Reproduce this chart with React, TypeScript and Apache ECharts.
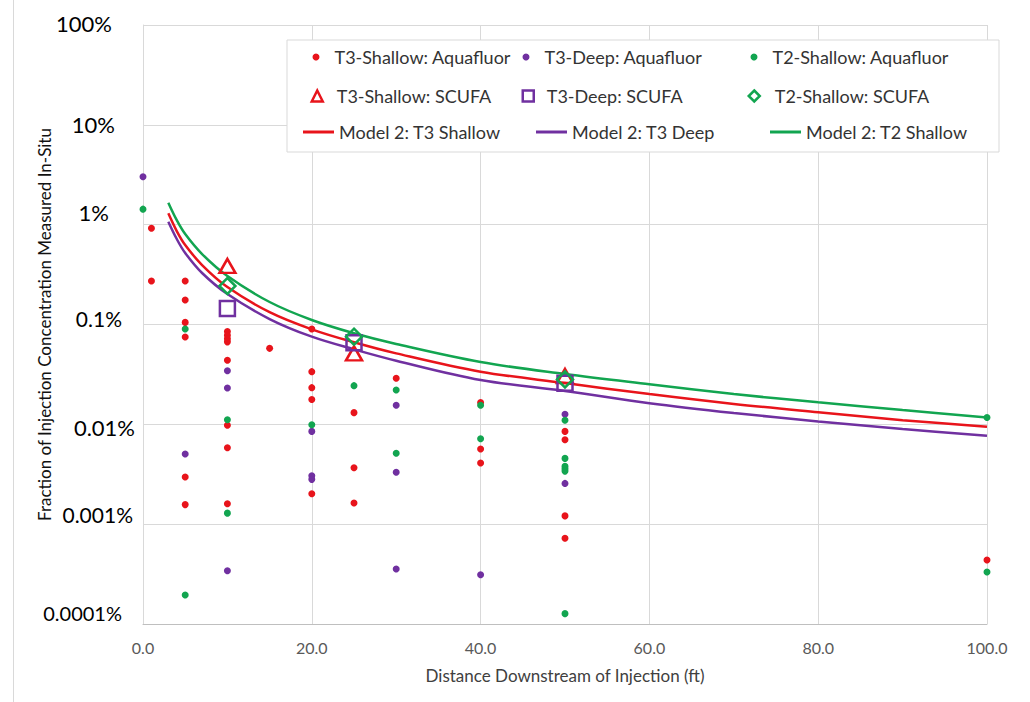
import React, { useEffect, useRef } from "react";
import * as echarts from "echarts";

// ---- data (values in percent) ----
const yTickLabels = ["0.0001%", "0.001%", "0.01%", "0.1%", "1%", "10%", "100%"];

const t3ShallowAqua: [number, number][] = [
  [1, 0.92], [1, 0.273], [5, 0.273], [5, 0.176], [5, 0.105], [5, 0.075], [5, 0.00297], [5, 0.00157],
  [10, 0.085], [10, 0.078], [10, 0.072], [10, 0.067], [10, 0.0438], [10, 0.00978], [10, 0.00583], [10, 0.0016],
  [15, 0.0577],
  [20, 0.0901], [20, 0.0337], [20, 0.0233], [20, 0.0177], [20, 0.00202],
  [25, 0.0131], [25, 0.00367], [25, 0.00163],
  [30, 0.0289],
  [40, 0.0165], [40, 0.00566], [40, 0.0041],
  [50, 0.0085], [50, 0.00702], [50, 0.00121], [50, 0.000722],
  [100, 0.000438],
];

const t3DeepAqua: [number, number][] = [
  [0, 3.02], [5, 0.00505], [10, 0.0344], [10, 0.0231], [10, 0.000342],
  [20, 0.0085], [20, 0.00306], [20, 0.00281],
  [30, 0.0155], [30, 0.00331], [30, 0.000356],
  [40, 0.000312], [50, 0.0126], [50, 0.00256],
];

const t2ShallowAqua: [number, number][] = [
  [0, 1.43], [5, 0.0901], [5, 0.000195], [10, 0.0111], [10, 0.00129],
  [20, 0.0099], [25, 0.0244], [30, 0.0221], [30, 0.00513],
  [40, 0.0155], [40, 0.00718],
  [50, 0.011], [50, 0.00456], [50, 0.0038], [50, 0.0036], [50, 0.0034], [50, 0.000127],
  [100, 0.0117], [100, 0.000332],
];

const t3ShallowScufa: [number, number][] = [[10, 0.386], [25, 0.0514], [50, 0.0305]];
const t3DeepScufa: [number, number][] = [[10, 0.145], [25, 0.0657], [50, 0.0258]];
const t2ShallowScufa: [number, number][] = [[10, 0.243], [25, 0.0755], [50, 0.0282]];

const modelX = [3, 4, 5, 7, 10, 15, 20, 25, 30, 40, 50, 60, 70, 80, 90, 100];
const modelT3Shallow = [1.3, 0.863, 0.625, 0.394, 0.237, 0.133, 0.0895, 0.0664, 0.0514, 0.0337, 0.0259, 0.0201, 0.016, 0.0132, 0.011, 0.00946];
const modelT3Deep = [1.07, 0.718, 0.52, 0.328, 0.202, 0.1135, 0.0755, 0.0564, 0.0434, 0.0278, 0.0216, 0.0163, 0.013, 0.0107, 0.00898, 0.00769];
const modelT2Shallow = [1.66, 1.11, 0.806, 0.508, 0.306, 0.168, 0.111, 0.0817, 0.0638, 0.0421, 0.0319, 0.0252, 0.0201, 0.0166, 0.0139, 0.0117];

const seriesNames = [
  "T3-Shallow: Aquafluor", "T3-Deep: Aquafluor", "T2-Shallow: Aquafluor",
  "T3-Shallow: SCUFA", "T3-Deep: SCUFA", "T2-Shallow: SCUFA",
  "Model 2: T3 Shallow", "Model 2: T3 Deep", "Model 2: T2 Shallow",
];

// ---- styles ----
const RED = "#e8141b";
const PURPLE = "#7030a0";
const GREEN = "#12a550";
const FONT = "Lato";
const colors = [RED, PURPLE, GREEN, RED, PURPLE, GREEN, RED, PURPLE, GREEN];
const scufaSymbols = ["triangle", "rect", "diamond"];

const zip = (xs: number[], ys: number[]) => xs.map((x, i) => [x, ys[i]]);

function buildOption() {
  const labelStyles: any = {};
  const ls = [
    { fs: 20, pad: [0, 13, 22, 0] },
    { fs: 21, pad: [0, 2, 20, 0] },
    { fs: 22, pad: [6, 0, 0, 0] },
    { fs: 21, pad: [0, 13, 12, 0] },
    { fs: 22, pad: [0, 26, 24, 0] },
    { fs: 22, pad: [0, 20, 0, 0] },
    { fs: 22, pad: [0, 23, 4, 0] },
  ];
  ls.forEach((s, i) => {
    labelStyles["s" + i] = { fontSize: s.fs, padding: s.pad, fontFamily: FONT, color: "#000" };
  });

  const rowTop = [48, 87, 123];
  const legendPos = [
    { left: 312.5, w: 7, h: 7, pad: 10 },
    { left: 522.5, w: 7, h: 7, pad: 10 },
    { left: 750.5, w: 7, h: 7, pad: 10 },
    { left: 310.5, w: 11, h: 11, pad: 9 },
    { left: 521.5, w: 11, h: 11, pad: 8 },
    { left: 747.5, w: 11, h: 11, pad: 10 },
    { left: 303, w: 31, h: 3, pad: 0 },
    { left: 536, w: 31, h: 3, pad: 0 },
    { left: 770, w: 31, h: 3, pad: 0 },
  ];

  const legends = legendPos.map((p, i) => {
    const row = Math.floor(i / 3);
    let item: any = { name: seriesNames[i] };
    if (row === 0) item = { ...item, icon: "circle", itemStyle: { color: colors[i], opacity: 1 } };
    if (row === 1)
      item = {
        ...item,
        icon: scufaSymbols[i - 3],
        itemStyle: { color: "rgba(255,255,255,0)", borderColor: colors[i], borderWidth: 2.5, opacity: 1 },
      };
    if (row === 2) item = { ...item, icon: "rect", itemStyle: { color: colors[i], opacity: 1, borderWidth: 0 } };
    return {
      data: [item],
      left: p.left,
      top: rowTop[row],
      itemWidth: p.w,
      itemHeight: p.h,
      padding: 0,
      selectedMode: false,
      textStyle: { fontFamily: FONT, fontSize: 18, color: "#333", padding: [0, 0, 0, p.pad] },
    };
  });

  const dot = (i: number, data: any) => ({
    name: seriesNames[i], type: "scatter", data, symbol: "circle", symbolSize: 7, z: 3,
    itemStyle: { color: colors[i], opacity: 1 },
  });
  const scufa = (i: number, data: any, size: any) => ({
    name: seriesNames[i], type: "scatter", data, symbol: scufaSymbols[i - 3], symbolSize: size, z: 4,
    itemStyle: { color: "rgba(255,255,255,0)", borderColor: colors[i], borderWidth: 2.5, opacity: 1 },
  });
  const model = (i: number, ys: number[]) => ({
    name: seriesNames[i], type: "line", data: zip(modelX, ys), smooth: 0.35,
    symbol: "none", showSymbol: false, z: 2,
    lineStyle: { color: colors[i], width: 2.5 }, itemStyle: { color: colors[i] },
  });

  return {
    animation: false,
    backgroundColor: "#fff",
    textStyle: { fontFamily: FONT },
    grid: { left: 143, top: 25, right: 43, bottom: 78, containLabel: false },
    legend: legends,
    graphic: [
      { type: "line", shape: { x1: 13.5, y1: 0, x2: 13.5, y2: 702 }, style: { stroke: "#d9d9d9", lineWidth: 1 } },
      { type: "rect", z: 3, shape: { x: 287, y: 40, width: 712, height: 112 }, style: { fill: "#fff", stroke: "#d9d9d9", lineWidth: 1 } },
    ],
    xAxis: {
      type: "value", min: 0, max: 100, interval: 20,
      name: "Distance Downstream of Injection (ft)",
      nameLocation: "middle", nameGap: 43,
      nameTextStyle: { fontFamily: FONT, fontSize: 17, color: "#404040" },
      axisLine: { show: true, lineStyle: { color: "#bfbfbf" } },
      axisTick: { show: false },
      axisLabel: { formatter: (v: number) => v.toFixed(1), fontFamily: FONT, fontSize: 16, color: "#595959", margin: 15 },
      splitLine: { show: true, lineStyle: { color: "#d9d9d9" } },
    },
    yAxis: {
      type: "log", logBase: 10, min: 0.0001, max: 100,
      name: "Fraction of Injection Concentration Measured In-Situ",
      nameLocation: "middle", nameGap: 90, nameRotate: 90, nameMoveOverlap: false,
      nameTextStyle: { fontFamily: FONT, fontSize: 17, color: "#111" },
      axisLine: { show: true, lineStyle: { color: "#d9d9d9" } },
      axisTick: { show: false },
      minorTick: { show: false },
      axisLabel: {
        margin: 8,
        formatter: (v: number) => {
          const i = Math.round(Math.log10(v)) + 4;
          return "{s" + i + "|" + yTickLabels[i] + "}";
        },
        rich: labelStyles,
      },
      splitLine: { show: true, lineStyle: { color: "#d9d9d9" } },
    },
    series: [
      model(6, modelT3Shallow),
      model(7, modelT3Deep),
      model(8, modelT2Shallow),
      dot(0, t3ShallowAqua),
      dot(1, t3DeepAqua),
      dot(2, t2ShallowAqua),
      scufa(3, t3ShallowScufa, [16, 14]),
      scufa(4, t3DeepScufa, 15),
      scufa(5, t2ShallowScufa, 16),
    ],
  };
}

export default function App() {
  const ref = useRef<HTMLDivElement>(null);
  useEffect(() => {
    const chart = echarts.init(ref.current!, null, { renderer: "svg" });
    chart.setOption(buildOption() as any);
    return () => chart.dispose();
  }, []);
  return <div ref={ref} style={{ position: "absolute", left: 0, top: 0, width: 1030, height: 702 }} />;
}
